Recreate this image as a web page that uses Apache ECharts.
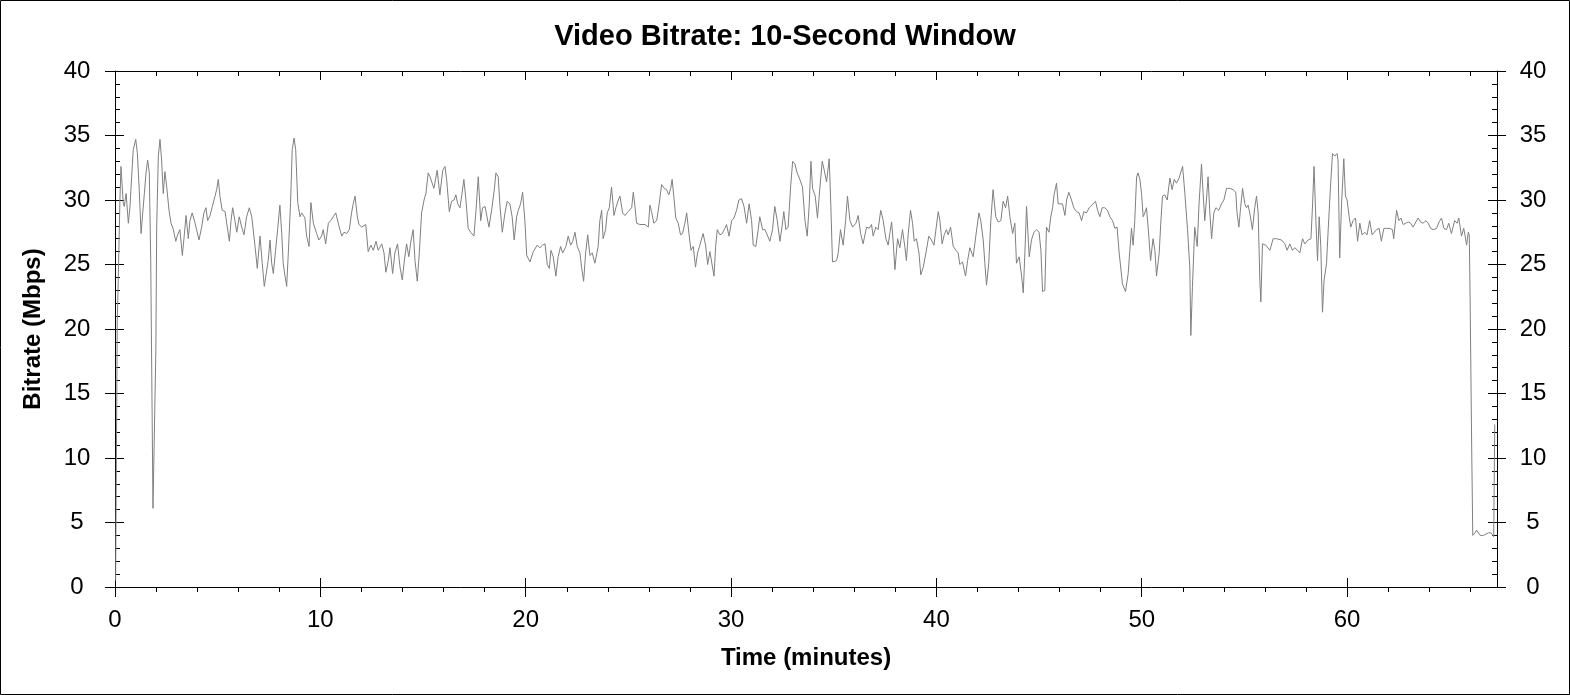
<!DOCTYPE html>
<html><head><meta charset="utf-8">
<script src="https://cdn.jsdelivr.net/npm/echarts@6/dist/echarts.min.js"></script>
<style>html,body{margin:0;padding:0;background:#fff;}#chart{width:1570px;height:695px;}</style>
</head><body><div id="chart"></div>
<script>
const chartTitle = 'Video Bitrate: 10-Second Window';
const xAxisTitle = 'Time (minutes)';
const yAxisTitle = 'Bitrate (Mbps)';
const xMax = 67.3;
const xMajorTicks = [0, 10, 20, 30, 40, 50, 60];
const xMinorTicks = [0,2,4,6,8,10,12,14,16,18,20,22,24,26,28,30,32,34,36,38,40,42,44,46,48,50,52,54,56,58,60,62,64,66];
const yMin = 0, yMax = 40, yStep = 5;

// [minute, Mbps]
const bitrateSamples = [
[0.03,0.5],[0.11,20.5],[0.16,24.0],[0.24,30.0],[0.29,32.6],[0.34,32.7],[0.40,29.8],[0.45,29.5],[0.54,30.5],[0.65,28.2],
[0.73,29.5],[0.81,31.8],[0.89,33.9],[1.01,34.7],[1.09,33.6],[1.18,30.8],[1.27,27.4],[1.35,29.0],[1.43,30.5],[1.51,32.1],
[1.59,33.1],[1.67,32.1],[1.74,25.3],[1.85,6.1],[1.99,18.4],[2.03,27.9],[2.11,33.4],[2.19,34.7],[2.27,33.1],[2.35,30.5],
[2.43,32.2],[2.52,31.0],[2.63,29.2],[2.73,28.2],[2.84,27.7],[2.96,26.8],[3.05,27.3],[3.16,27.7],[3.28,25.7],[3.37,27.2],
[3.46,28.8],[3.57,27.0],[3.65,28.4],[3.76,29.0],[3.90,28.2],[4.09,26.9],[4.22,27.9],[4.33,29.0],[4.43,29.4],[4.51,28.4],
[4.63,28.8],[4.74,29.5],[4.87,30.3],[4.95,30.8],[5.03,31.6],[5.11,30.3],[5.22,29.2],[5.36,29.1],[5.44,28.2],[5.57,26.8],
[5.65,28.4],[5.73,29.4],[5.84,28.4],[5.93,27.5],[6.05,28.7],[6.17,27.9],[6.28,27.3],[6.41,28.7],[6.54,29.4],[6.66,28.7],
[6.82,26.4],[6.93,24.7],[7.06,27.2],[7.17,25.1],[7.27,23.3],[7.35,23.2],[7.46,25.3],[7.55,26.9],[7.63,25.1],[7.71,24.3],
[7.82,26.1],[7.92,27.7],[8.03,29.6],[8.12,27.4],[8.19,25.1],[8.28,24.1],[8.36,23.3],[8.44,25.9],[8.55,29.8],[8.63,33.9],
[8.72,34.8],[8.80,33.9],[8.90,29.8],[9.01,28.7],[9.09,29.0],[9.17,29.1],[9.25,28.6],[9.33,27.2],[9.45,26.4],[9.54,29.8],
[9.66,28.2],[9.82,27.4],[9.93,26.9],[10.06,27.2],[10.14,27.7],[10.26,26.6],[10.39,28.2],[10.50,28.4],[10.63,28.7],[10.75,29.0],
[10.82,29.1],[10.92,27.9],[11.04,27.2],[11.15,27.5],[11.28,27.4],[11.41,27.7],[11.52,29.0],[11.60,29.7],[11.69,30.3],[11.80,28.7],
[11.88,28.1],[12.01,27.9],[12.21,28.1],[12.33,26.0],[12.46,26.5],[12.58,26.1],[12.71,26.8],[12.82,26.1],[12.99,26.6],[13.10,25.9],
[13.19,24.4],[13.31,25.3],[13.39,26.3],[13.52,24.3],[13.63,25.9],[13.76,26.6],[13.88,24.8],[13.99,23.8],[14.09,25.3],[14.20,26.6],
[14.31,25.6],[14.41,26.8],[14.52,27.7],[14.61,25.3],[14.72,23.7],[14.82,25.9],[14.93,29.0],[15.05,30.0],[15.14,30.5],[15.25,32.1],
[15.34,31.8],[15.53,30.9],[15.69,32.3],[15.82,30.4],[15.96,32.3],[16.07,32.6],[16.15,31.6],[16.28,29.1],[16.39,29.9],[16.51,30.0],
[16.60,30.4],[16.69,29.7],[16.80,29.4],[16.88,30.3],[16.99,31.6],[17.09,30.0],[17.20,27.8],[17.32,27.5],[17.48,27.2],[17.58,29.2],
[17.69,31.8],[17.81,28.4],[17.90,29.4],[18.02,29.5],[18.21,27.9],[18.34,29.2],[18.47,30.8],[18.55,32.1],[18.66,31.8],[18.75,29.5],
[18.86,27.5],[18.99,29.0],[19.10,29.9],[19.23,29.7],[19.34,28.7],[19.44,26.9],[19.56,28.7],[19.64,29.2],[19.75,29.7],[19.85,30.6],
[19.96,28.4],[20.05,25.7],[20.21,25.2],[20.37,26.0],[20.56,26.5],[20.69,26.3],[20.82,26.5],[20.94,26.6],[21.05,25.0],[21.15,24.7],
[21.23,26.1],[21.34,25.6],[21.47,24.1],[21.58,25.6],[21.70,26.4],[21.80,25.9],[21.96,26.4],[22.07,27.2],[22.19,26.5],[22.29,26.8],
[22.40,27.5],[22.51,26.4],[22.64,25.9],[22.72,24.8],[22.82,23.7],[22.92,25.9],[23.02,27.3],[23.13,25.7],[23.24,25.9],[23.37,25.1],
[23.53,26.4],[23.61,28.4],[23.70,29.2],[23.77,27.0],[23.89,27.7],[23.97,29.0],[24.07,29.4],[24.18,31.0],[24.30,28.8],[24.39,29.4],
[24.51,30.0],[24.59,30.3],[24.72,29.0],[24.83,28.8],[24.99,29.1],[25.16,29.4],[25.24,30.6],[25.32,29.5],[25.40,28.2],[25.56,28.1],
[25.81,28.1],[25.97,27.9],[26.05,29.6],[26.13,29.1],[26.24,28.2],[26.38,28.4],[26.50,29.7],[26.62,31.2],[26.75,30.9],[26.86,30.8],
[26.97,30.4],[27.06,30.9],[27.13,31.6],[27.23,30.0],[27.31,28.6],[27.43,28.2],[27.54,27.3],[27.64,27.4],[27.75,28.2],[27.84,29.0],
[27.95,27.4],[28.05,26.1],[28.16,26.4],[28.27,24.8],[28.37,25.9],[28.48,26.5],[28.64,27.4],[28.76,26.5],[28.86,25.0],[28.97,26.0],
[29.05,25.9],[29.17,24.1],[29.25,26.4],[29.33,27.7],[29.46,27.3],[29.57,27.4],[29.70,27.8],[29.78,28.1],[29.90,27.2],[30.03,28.4],
[30.14,28.6],[30.27,29.2],[30.38,30.0],[30.51,30.1],[30.63,29.5],[30.76,28.2],[30.88,29.7],[31.00,28.4],[31.08,26.5],[31.21,26.4],
[31.32,27.7],[31.40,28.7],[31.54,27.7],[31.65,27.7],[31.76,27.3],[31.89,26.8],[32.02,27.7],[32.13,29.5],[32.25,28.4],[32.38,26.8],
[32.48,27.9],[32.57,29.1],[32.67,27.7],[32.78,27.9],[32.90,31.0],[33.00,33.0],[33.11,32.8],[33.22,32.1],[33.35,31.6],[33.48,31.0],
[33.60,28.4],[33.71,27.2],[33.81,29.7],[33.89,33.0],[33.97,30.9],[34.10,30.3],[34.21,28.6],[34.33,31.0],[34.44,33.0],[34.54,32.3],
[34.65,31.4],[34.78,33.2],[34.86,29.5],[34.94,25.2],[35.14,25.3],[35.22,25.9],[35.33,27.7],[35.46,26.5],[35.58,28.4],[35.67,30.3],
[35.79,28.4],[35.92,27.9],[36.08,28.2],[36.19,28.8],[36.31,27.4],[36.43,26.6],[36.60,27.9],[36.73,27.8],[36.84,28.1],[36.92,27.2],
[37.05,27.9],[37.16,27.7],[37.29,29.2],[37.41,28.4],[37.54,27.0],[37.65,26.5],[37.73,27.4],[37.82,28.3],[37.89,26.9],[37.98,24.6],
[38.11,27.0],[38.22,26.3],[38.35,27.7],[38.46,26.4],[38.54,25.3],[38.63,27.4],[38.74,29.2],[38.84,28.2],[38.92,26.8],[39.03,27.0],
[39.15,25.9],[39.24,24.2],[39.36,24.8],[39.49,25.9],[39.63,27.2],[39.76,26.9],[39.88,26.5],[39.97,26.6],[40.09,29.1],[40.17,28.4],
[40.28,26.6],[40.38,27.3],[40.49,27.7],[40.57,27.3],[40.69,27.9],[40.82,26.4],[40.95,26.1],[41.06,25.9],[41.14,25.0],[41.27,25.2],
[41.42,24.1],[41.52,25.3],[41.63,26.3],[41.79,25.6],[41.92,27.2],[42.07,29.0],[42.16,28.4],[42.28,26.9],[42.36,25.1],[42.44,23.4],
[42.55,25.1],[42.65,28.4],[42.76,30.8],[42.89,28.7],[43.01,28.3],[43.14,28.4],[43.25,29.9],[43.37,29.4],[43.47,30.3],[43.58,28.7],
[43.71,27.4],[43.82,28.2],[43.90,25.1],[44.03,25.6],[44.15,24.1],[44.23,22.8],[44.31,25.9],[44.39,29.5],[44.52,25.6],[44.63,26.9],
[44.75,27.5],[44.88,27.7],[45.00,27.5],[45.09,26.1],[45.17,22.9],[45.28,23.0],[45.36,27.9],[45.48,27.5],[45.57,28.7],[45.66,29.4],
[45.73,30.4],[45.85,31.3],[45.93,29.7],[46.01,29.6],[46.14,29.7],[46.26,28.8],[46.34,30.0],[46.45,30.6],[46.58,30.0],[46.69,29.4],
[46.82,29.1],[46.95,29.0],[47.07,28.4],[47.18,29.1],[47.31,29.0],[47.44,29.4],[47.56,29.6],[47.63,29.5],[47.75,29.9],[47.85,29.2],
[47.96,28.7],[48.07,29.4],[48.20,29.4],[48.33,29.2],[48.45,28.7],[48.58,28.4],[48.69,27.8],[48.80,27.9],[48.90,25.9],[49.06,23.5],
[49.21,22.9],[49.34,24.3],[49.42,26.1],[49.50,27.8],[49.58,26.5],[49.66,28.4],[49.75,31.8],[49.82,32.1],[49.91,31.6],[49.99,30.5],
[50.07,28.7],[50.15,29.0],[50.23,29.4],[50.31,27.9],[50.43,25.3],[50.55,27.0],[50.64,26.1],[50.72,24.1],[50.85,25.9],[50.93,28.3],
[51.01,30.3],[51.12,30.4],[51.24,30.0],[51.37,31.7],[51.48,30.8],[51.58,31.6],[51.69,31.3],[51.82,31.7],[51.89,32.1],[51.99,32.6],
[52.10,30.5],[52.23,27.7],[52.34,24.8],[52.39,19.5],[52.47,23.3],[52.58,27.9],[52.70,26.4],[52.79,29.7],[52.91,32.8],[52.99,30.5],
[53.07,28.4],[53.15,30.0],[53.23,31.8],[53.31,29.2],[53.40,27.0],[53.51,29.0],[53.61,29.4],[53.75,29.2],[53.88,29.7],[54.00,30.0],
[54.13,30.9],[54.29,30.9],[54.45,30.8],[54.58,30.6],[54.64,29.0],[54.73,27.9],[54.82,29.5],[54.91,30.9],[55.02,29.7],[55.10,29.4],
[55.18,29.6],[55.26,29.0],[55.39,27.7],[55.50,29.4],[55.59,30.3],[55.67,29.0],[55.75,23.8],[55.80,22.1],[55.88,26.6],[56.04,26.5],
[56.24,26.1],[56.40,27.0],[56.56,27.0],[56.81,26.9],[56.97,26.6],[57.08,26.1],[57.21,26.6],[57.34,26.1],[57.45,26.3],[57.59,26.1],
[57.70,25.9],[57.83,27.0],[57.94,26.6],[58.10,26.9],[58.24,27.0],[58.32,29.7],[58.39,32.6],[58.48,28.4],[58.56,25.3],[58.64,28.7],
[58.72,26.4],[58.80,21.3],[58.88,23.8],[59.00,25.1],[59.08,27.7],[59.19,31.0],[59.29,33.6],[59.40,33.4],[59.51,33.6],[59.56,33.1],
[59.64,25.5],[59.73,29.7],[59.84,33.2],[59.92,30.3],[60.00,30.0],[60.10,28.7],[60.18,27.9],[60.29,28.4],[60.41,28.6],[60.51,26.8],
[60.62,28.2],[60.73,27.3],[60.86,27.5],[60.97,27.3],[61.10,28.4],[61.22,27.3],[61.31,27.2],[61.43,27.7],[61.56,27.8],[61.67,26.8],
[61.79,27.8],[61.92,27.8],[62.08,27.8],[62.21,27.7],[62.27,27.0],[62.41,29.2],[62.52,28.4],[62.62,28.6],[62.73,28.1],[62.86,28.2],
[62.97,28.3],[63.09,28.2],[63.21,27.9],[63.35,28.3],[63.46,28.6],[63.58,28.3],[63.70,28.2],[63.84,28.4],[63.95,28.2],[64.07,27.8],
[64.19,27.7],[64.36,27.8],[64.48,28.3],[64.60,28.6],[64.71,27.8],[64.84,27.7],[64.95,28.2],[65.08,27.4],[65.16,27.9],[65.24,28.4],
[65.36,28.2],[65.44,28.6],[65.57,27.2],[65.68,27.8],[65.74,27.3],[65.82,26.5],[65.90,27.5],[65.95,27.3],[65.99,22.5],[66.07,10.4],
[66.12,4.0],[66.23,4.2],[66.31,4.4],[66.48,4.0],[66.64,4.0],[66.88,4.2],[67.01,4.2],[67.14,3.9],[67.19,12.6]
];

const FONT = '"Liberation Sans", Arial, Helvetica, sans-serif';
const axisLineStyle = { color: '#000', width: 1 };

function xAx(pos, opts) {
  return Object.assign({
    type: 'value', gridIndex: 0, position: pos, min: 0, max: xMax, interval: 10,
    axisLine: { show: false, onZero: false, lineStyle: axisLineStyle },
    axisTick: { show: false },
    axisLabel: { show: false },
    splitLine: { show: false },
    minorTick: { show: false }
  }, opts);
}
function yAx(pos, opts) {
  return Object.assign({
    type: 'value', gridIndex: 0, position: pos, min: yMin, max: yMax, interval: yStep,
    axisLine: { show: false, onZero: false, lineStyle: axisLineStyle },
    axisTick: { show: false },
    axisLabel: { show: false },
    splitLine: { show: false },
    minorTick: { show: false }
  }, opts);
}

const chart = echarts.init(document.getElementById('chart'), null, { renderer: 'canvas' });
chart.setOption({
  animation: false,
  backgroundColor: '#fff',
  title: {
    text: chartTitle, left: 'center', top: 17,
    textStyle: { fontFamily: FONT, fontSize: 29, fontWeight: 'bold', color: '#000' }
  },
  grid: { left: 115, right: 73, top: 71, bottom: 108, containLabel: false },
  graphic: [{
    type: 'rect', silent: true, z: 100,
    shape: { x: 0.5, y: 0.5, width: 1569, height: 694 },
    style: { fill: 'none', stroke: '#000', lineWidth: 1 }
  }],
  xAxis: [
    xAx('bottom', {
      axisLine: { show: true, onZero: false, lineStyle: axisLineStyle },
      axisTick: { show: true, inside: false, length: 10, customValues: xMajorTicks, lineStyle: axisLineStyle },
      axisLabel: { show: true, customValues: xMajorTicks, margin: 21, fontSize: 24, fontFamily: FONT, color: '#000' },
      name: xAxisTitle, nameLocation: 'middle', nameGap: 59,
      nameTextStyle: { fontFamily: FONT, fontSize: 24, fontWeight: 'bold', color: '#000' }
    }),
    xAx('bottom', { axisTick: { show: true, inside: true, length: 9, customValues: xMajorTicks, lineStyle: axisLineStyle } }),
    xAx('bottom', { axisTick: { show: true, inside: false, length: 5, customValues: xMinorTicks, lineStyle: axisLineStyle } }),
    xAx('top', {
      axisLine: { show: true, onZero: false, lineStyle: axisLineStyle },
      axisTick: { show: true, inside: true, length: 9, customValues: xMajorTicks, lineStyle: axisLineStyle }
    }),
    xAx('top', { axisTick: { show: true, inside: true, length: 5, customValues: xMinorTicks, lineStyle: axisLineStyle } })
  ],
  yAxis: [
    yAx('left', {
      axisLine: { show: true, onZero: false, lineStyle: axisLineStyle },
      axisTick: { show: true, inside: false, length: 10, lineStyle: axisLineStyle },
      axisLabel: { show: true, margin: 38, align: 'center', fontSize: 24, fontFamily: FONT, color: '#000' },
      name: yAxisTitle, nameLocation: 'middle', nameGap: 70, nameRotate: 90,
      nameTextStyle: { fontFamily: FONT, fontSize: 24, fontWeight: 'bold', color: '#000' }
    }),
    yAx('left', {
      axisTick: { show: true, inside: true, length: 9, lineStyle: axisLineStyle },
      minorTick: { show: true, splitNumber: 5, length: 5, lineStyle: axisLineStyle }
    }),
    yAx('right', {
      axisLine: { show: true, onZero: false, lineStyle: axisLineStyle },
      axisTick: { show: true, inside: false, length: 9, lineStyle: axisLineStyle },
      axisLabel: { show: true, margin: 36, align: 'center', fontSize: 24, fontFamily: FONT, color: '#000' }
    }),
    yAx('right', {
      axisTick: { show: true, inside: true, length: 9, lineStyle: axisLineStyle },
      minorTick: { show: true, splitNumber: 5, length: 5, lineStyle: axisLineStyle }
    })
  ],
  series: [{
    type: 'line', xAxisIndex: 0, yAxisIndex: 0,
    data: bitrateSamples,
    showSymbol: false, symbol: 'none', smooth: false, silent: true,
    lineStyle: { color: '#808080', width: 1 }
  }]
});
</script></body></html>
